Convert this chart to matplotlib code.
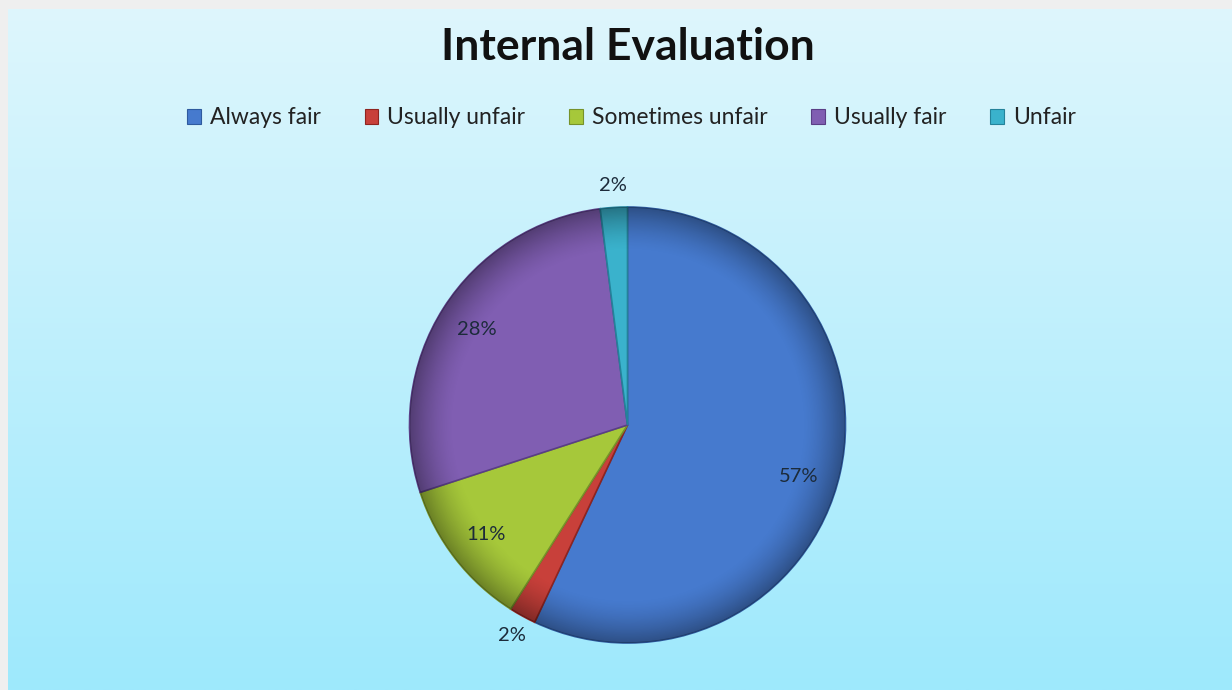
import numpy as np
import matplotlib
matplotlib.use("Agg")
import matplotlib.pyplot as plt
from matplotlib.patches import Circle

categories = ["Always fair", "Usually unfair", "Sometimes unfair", "Usually fair", "Unfair"]
values = [57, 2, 11, 28, 2]
colors = ["#467ace", "#c8403a", "#a6c83a", "#805eb2", "#3ab2cc"]
edge_colors = ["#2e5a9e", "#8e2420", "#76922a", "#5a3e86", "#24829a"]
title = "Internal Evaluation"

W, H = 1232, 690
fig = plt.figure(figsize=(W / 100, H / 100), dpi=100)
fig.patch.set_facecolor("#efefef")

# background gradient panel
bg = fig.add_axes([8 / W, 0, 1 - 8 / W, (H - 9) / H])
top = np.array([222, 246, 252]) / 255
bot = np.array([158, 233, 253]) / 255
t = np.linspace(0, 1, 256)[:, None]
grad = top[None, :] * (1 - t) + bot[None, :] * t
bg.imshow(grad[:, None, :].repeat(2, axis=1), aspect="auto", extent=[0, 1, 0, 1])
bg.set_axis_off()

# pie
cx, cy, R = 627.5, 425, 218
ax = fig.add_axes([(cx - R) / W, (H - cy - R) / H, 2 * R / W, 2 * R / H])
ax.set_xlim(-1, 1)
ax.set_ylim(-1, 1)
ax.set_axis_off()
wedges, _ = ax.pie(values, colors=colors, startangle=90, counterclock=False,
                   radius=1, wedgeprops=dict(linewidth=1.2))
for w, ec in zip(wedges, edge_colors):
    w.set_edgecolor(ec)

# shading overlay (bevel-like)
n = 400
xs = np.linspace(-1, 1, n)
X, Y = np.meshgrid(xs, xs)
r = np.sqrt(X ** 2 + Y ** 2)
shade = np.zeros((n, n, 4))
alpha = np.clip((r - 0.80) / 0.20, 0, 1) ** 1.5 * 0.35
shade[..., 3] = alpha
im = ax.imshow(shade, extent=[-1, 1, -1, 1], origin="lower", zorder=3)
im.set_clip_path(Circle((0, 0), 1, transform=ax.transData))
ax.set_xlim(-1, 1)
ax.set_ylim(-1, 1)

# percentage labels
total = sum(values)
ang = 90.0
for v, w in zip(values, wedges):
    span = 360.0 * v / total
    mid = np.deg2rad(ang - span / 2)
    ang -= span
    d = 0.82 if v >= 5 else 1.10
    if v > 50:
        mid -= np.deg2rad(4)
    ax.text(d * np.cos(mid), d * np.sin(mid), f"{v}%", ha="center", va="center",
            fontsize=14.5, family="Lato", color="#1c2b3a", zorder=5, clip_on=False)

fig.text(0.5095, 1 - 47 / H, title, ha="center", va="center", fontsize=32,
         fontweight="bold", family="Lato", color="#111111")

handles = [plt.Rectangle((0, 0), 1, 1, facecolor=c, edgecolor=e, linewidth=0.8)
           for c, e in zip(colors, edge_colors)]
leg = fig.legend(handles, categories, loc="center", bbox_to_anchor=(631.5 / W, 1 - 118 / H),
                 ncol=5, frameon=False, prop=dict(family="Lato", size=16.5),
                 handlelength=0.6, handleheight=0.6, handletextpad=0.4, columnspacing=1.9)
for tx in leg.get_texts():
    tx.set_color("#222222")

fig.savefig("out.png", dpi=100)
